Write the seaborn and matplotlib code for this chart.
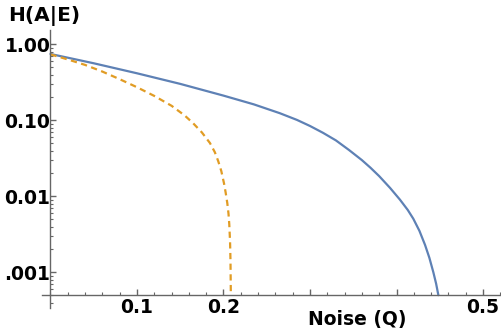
import numpy as np
import pandas as pd
import matplotlib
matplotlib.use('Agg')
import matplotlib.pyplot as plt
import matplotlib.ticker as mticker
import seaborn as sns

# Curves (log-scale y)
q_solid = [0.0, 0.05, 0.10, 0.15, 0.20, 0.235, 0.265, 0.285, 0.30, 0.315, 0.33, 0.345,
           0.36, 0.37, 0.38, 0.3925, 0.404, 0.413, 0.4194, 0.4265, 0.433, 0.438, 0.4426,
           0.4458, 0.4484]
h_solid = [0.745, 0.562, 0.415, 0.301, 0.211, 0.162, 0.124, 0.101, 0.0841, 0.0684, 0.0543,
           0.0407, 0.0299, 0.0237, 0.0184, 0.0129, 0.00902, 0.00661, 0.00507, 0.00351,
           0.00229, 0.00155, 0.00100, 0.000708, 0.0005]

q_dashed = [0.0, 0.02, 0.04, 0.06, 0.08, 0.10, 0.12, 0.14, 0.155, 0.165, 0.175, 0.1844,
            0.19, 0.194, 0.1975, 0.2006, 0.2025, 0.2044, 0.2058, 0.2067, 0.2076, 0.2081,
            0.2085]
h_dashed = [0.736, 0.631, 0.535, 0.437, 0.347, 0.272, 0.209, 0.155, 0.116, 0.0912, 0.0692,
            0.0501, 0.0380, 0.0288, 0.0214, 0.0148, 0.0112, 0.00813, 0.00589, 0.00427,
            0.00251, 0.00141, 0.0005]

x_ticks = [0.1, 0.2, 0.3, 0.4, 0.5]
x_ticklabels = ['0.1', '0.2', '', '', '0.5']
y_ticks = [1.0, 0.1, 0.01, 0.001]
y_ticklabels = ['1.00', '0.10', '0.01', '.001']

df_solid = pd.DataFrame({'Q': q_solid, 'H': h_solid})
df_dashed = pd.DataFrame({'Q': q_dashed, 'H': h_dashed})

sns.set_style('white')
plt.rcParams['font.family'] = ['DejaVu Sans']
plt.rcParams['font.weight'] = 'bold'

fig = plt.figure(figsize=(5.01, 3.35), dpi=100)
W, H = 501, 335
ax = fig.add_axes([42 / W, (H - 308) / H, (501 - 42) / W, (308 - 30) / H])

sns.lineplot(data=df_solid, x='Q', y='H', ax=ax, color='#5E81B5', linewidth=1.6)
sns.lineplot(data=df_dashed, x='Q', y='H', ax=ax, color='#E19C24', linewidth=1.6,
             linestyle=(0, (2.8, 2.0)))

ax.set_yscale('log')
ax.set_xlim(-0.0098, 0.5208)
ax.set_ylim(3.39e-4, 1.54)

axis_col = '#666666'
for s in ['top', 'right']:
    ax.spines[s].set_visible(False)
ax.spines['left'].set_position(('data', 0.0))
ax.spines['bottom'].set_position(('data', 5e-4))
for s in ['left', 'bottom']:
    ax.spines[s].set_color(axis_col)
    ax.spines[s].set_linewidth(1.0)

ax.set_xticks(x_ticks)
ax.set_xticklabels(x_ticklabels)
ax.xaxis.set_minor_locator(mticker.MultipleLocator(0.02))
ax.set_yticks(y_ticks)
ax.set_yticklabels(y_ticklabels)
ax.yaxis.set_minor_locator(mticker.LogLocator(base=10, subs=np.arange(2, 10)))
ax.yaxis.set_minor_formatter(mticker.NullFormatter())

ax.tick_params(axis='both', which='both', bottom=True, left=True, top=False, right=False)
ax.tick_params(axis='both', which='major', direction='in', length=4.5, width=1,
               color=axis_col, labelsize=13.5, labelcolor='black')
ax.tick_params(axis='both', which='minor', direction='in', length=2.5, width=0.8,
               color=axis_col)
ax.tick_params(axis='x', which='major', pad=2)
ax.tick_params(axis='y', which='major', pad=0)
for lab in ax.get_xticklabels() + ax.get_yticklabels():
    lab.set_fontweight('bold')

ax.set_xlabel('')
ax.set_ylabel('')
fig.text(44 / W, 1 - 16 / H, 'H(A|E)', ha='center', va='center',
         fontsize=14.5, fontweight='bold', color='black')
fig.text(357 / W, 1 - 319 / H, 'Noise (Q)', ha='center', va='center',
         fontsize=13.5, fontweight='bold', color='black')

fig.savefig('out.png', dpi=100)
